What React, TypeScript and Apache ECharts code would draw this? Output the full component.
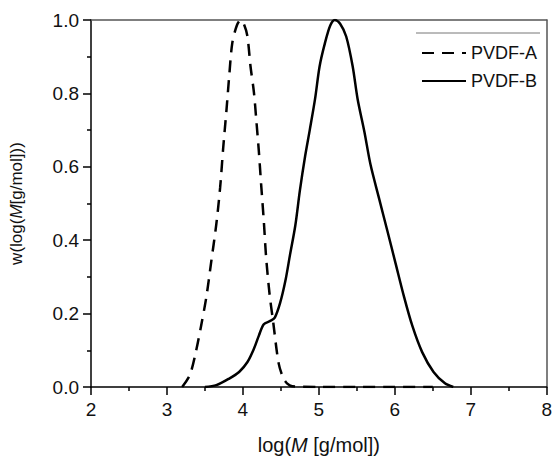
import React, { useEffect, useRef } from "react";
import * as echarts from "echarts";

const seriesNames = ["PVDF-A", "PVDF-B"];

const aLogM = [3.2, 3.3, 3.38, 3.45, 3.52, 3.58, 3.65, 3.7, 3.74, 3.785, 3.82, 3.86, 3.92, 3.97, 4.02, 4.06, 4.1, 4.145, 4.175, 4.21, 4.24, 4.275, 4.305, 4.35, 4.4, 4.47, 4.53, 4.58, 4.65, 5.0, 5.5, 6.0, 6.5];
const aW = [0, 0.032, 0.095, 0.167, 0.247, 0.337, 0.444, 0.543, 0.65, 0.758, 0.848, 0.937, 0.985, 1.0, 0.985, 0.955, 0.874, 0.803, 0.731, 0.642, 0.552, 0.453, 0.355, 0.255, 0.175, 0.065, 0.025, 0.01, 0.002, 0, 0, 0, 0];

const bLogM = [3.5, 3.65, 3.82, 3.95, 4.06, 4.145, 4.21, 4.275, 4.36, 4.42, 4.49, 4.56, 4.62, 4.69, 4.75, 4.82, 4.88, 4.95, 5.01, 5.08, 5.15, 5.21, 5.28, 5.36, 5.445, 5.51, 5.6, 5.68, 5.79, 5.9, 6.01, 6.12, 6.23, 6.36, 6.51, 6.66, 6.77];
const bW = [0, 0.005, 0.023, 0.041, 0.068, 0.104, 0.14, 0.171, 0.18, 0.189, 0.229, 0.29, 0.36, 0.44, 0.535, 0.63, 0.7, 0.785, 0.874, 0.937, 0.985, 1.0, 0.99, 0.955, 0.874, 0.785, 0.695, 0.606, 0.516, 0.427, 0.337, 0.247, 0.167, 0.095, 0.041, 0.01, 0];

const xMin = 2, xMax = 8, xStep = 1;
const yMin = 0, yMax = 1, yStep = 0.2;
const xTitle = "log({i|M} [g/mol])";
const yTitle = "w(log({i|M}[g/mol]))";

export default function App() {
  const ref = useRef<HTMLDivElement>(null);
  useEffect(() => {
    if (!ref.current) return;
    const chart = echarts.init(ref.current, null, { renderer: "svg" });
    const font = "Liberation Sans, Arial, sans-serif";
    const pair = (xs: number[], ys: number[]) => xs.map((x, i) => [x, ys[i]]);
    chart.setOption({
      animation: false,
      backgroundColor: "#fff",
      textStyle: { fontFamily: font },
      grid: { left: 90, right: 4, top: 20, bottom: 68 },
      legend: {
        orient: "vertical",
        left: 416,
        top: 39,
        itemWidth: 44,
        itemHeight: 14,
        itemGap: 10,
        itemStyle: { opacity: 0 },
        textStyle: { fontSize: 18, color: "#111", fontFamily: font },
        data: seriesNames,
      },
      xAxis: [
        {
          type: "value",
          min: xMin,
          max: xMax,
          interval: xStep,
          name: xTitle,
          nameLocation: "middle",
          nameGap: 48,
          nameTextStyle: {
            fontSize: 20,
            color: "#111",
            fontFamily: font,
            rich: { i: { fontStyle: "italic", fontSize: 20, color: "#111", fontFamily: font } },
          },
          axisLine: { onZero: false, lineStyle: { color: "#000", width: 1.5 } },
          axisTick: { inside: false, length: 8, lineStyle: { color: "#000", width: 1.5 } },
          minorTick: { show: true, splitNumber: 2, length: 4, lineStyle: { color: "#000", width: 1.5 } },
          axisLabel: { fontSize: 19, color: "#111", margin: 13, fontFamily: font },
          splitLine: { show: false },
        },
        {
          type: "value",
          position: "top",
          min: xMin,
          max: xMax,
          axisLine: { show: true, onZero: false, lineStyle: { color: "#555", width: 1.5 } },
          axisTick: { show: false },
          axisLabel: { show: false },
          splitLine: { show: false },
        },
      ],
      yAxis: [
        {
          type: "value",
          min: yMin,
          max: yMax,
          interval: yStep,
          name: yTitle,
          nameLocation: "middle",
          nameGap: 66,
          nameTextStyle: {
            fontSize: 17,
            color: "#111",
            fontFamily: font,
            rich: { i: { fontStyle: "italic", fontSize: 17, color: "#111", fontFamily: font } },
          },
          axisLine: { show: true, onZero: false, lineStyle: { color: "#000", width: 1.5 } },
          axisTick: { show: true, inside: false, length: 8, lineStyle: { color: "#000", width: 1.5 } },
          minorTick: { show: true, splitNumber: 2, length: 4, lineStyle: { color: "#000", width: 1.5 } },
          axisLabel: { fontSize: 19, color: "#111", margin: 12, fontFamily: font, formatter: (v: number) => v.toFixed(1) },
          splitLine: { show: false },
        },
        {
          type: "value",
          position: "right",
          min: yMin,
          max: yMax,
          axisLine: { show: true, onZero: false, lineStyle: { color: "#555", width: 1.5 } },
          axisTick: { show: false },
          axisLabel: { show: false },
          splitLine: { show: false },
        },
      ],
      graphic: [
        {
          type: "line",
          shape: { x1: 416, y1: 33, x2: 540, y2: 33 },
          style: { stroke: "#777", lineWidth: 1 },
          z: 10,
        },
      ],
      series: [
        {
          name: seriesNames[0],
          type: "line",
          data: pair(aLogM, aW),
          showSymbol: false,
          symbol: "none",
          smooth: 0.3,
          lineStyle: { color: "#000", width: 2.5, type: [12, 8] },
          itemStyle: { color: "#000" },
        },
        {
          name: seriesNames[1],
          type: "line",
          data: pair(bLogM, bW),
          showSymbol: false,
          symbol: "none",
          smooth: 0.3,
          lineStyle: { color: "#000", width: 2.5, type: "solid" },
          itemStyle: { color: "#000" },
        },
      ],
    });
    return () => chart.dispose();
  }, []);
  return <div ref={ref} style={{ width: 555, height: 460, position: "absolute", left: 0, top: 0 }} />;
}
